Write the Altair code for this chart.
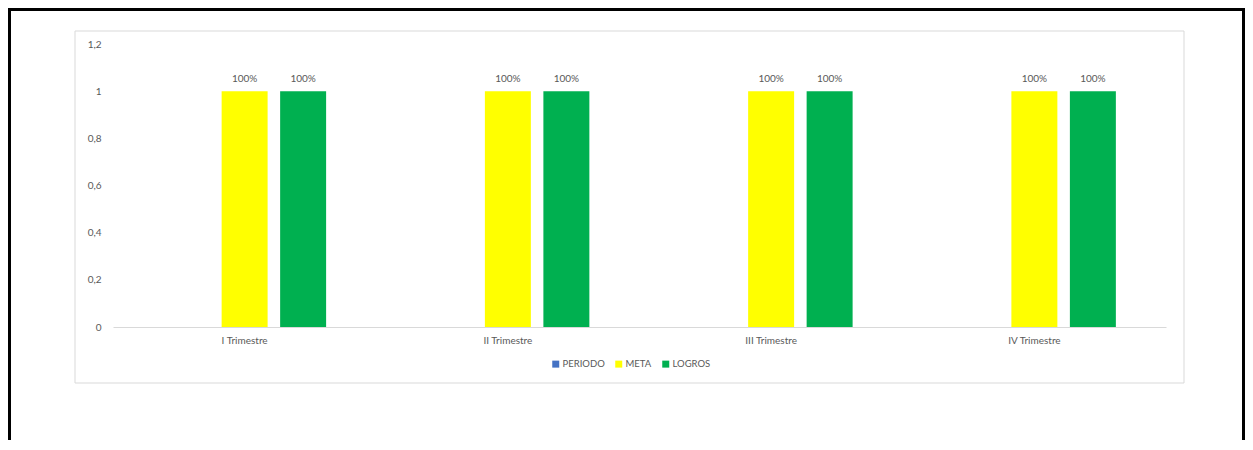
import altair as alt
import pandas as pd

periodos = ["I Trimestre", "II Trimestre", "III Trimestre", "IV Trimestre"]
series = ["PERIODO", "META", "LOGROS"]
periodo_vals = [0, 0, 0, 0]
meta_vals = [1, 1, 1, 1]
logros_vals = [1, 1, 1, 1]
colores = ["#4472C4", "#FFFF00", "#00B050"]
y_ticks = [0, 0.2, 0.4, 0.6, 0.8, 1.0, 1.2]

rows = []
for s, vals in zip(series, [periodo_vals, meta_vals, logros_vals]):
    for p, v in zip(periodos, vals):
        rows.append({"periodo": p, "serie": s, "valor": v})
df = pd.DataFrame(rows)

FONT = "Lato"
GRAY = "#595959"

x_enc = alt.X("periodo:N", sort=periodos, title=None,
              scale=alt.Scale(paddingInner=0, paddingOuter=0),
              axis=alt.Axis(labelAngle=0, ticks=False, domainColor="#d9d9d9",
                            labelColor=GRAY, labelFontSize=10, labelFont=FONT,
                            labelPadding=8))
xo_enc = alt.XOffset("serie:N", sort=series,
                     scale=alt.Scale(paddingInner=0.214, paddingOuter=0.857))
y_enc = alt.Y("valor:Q", title=None,
              scale=alt.Scale(domain=[0, 1.2], nice=False),
              axis=alt.Axis(values=y_ticks, grid=False, domain=False, ticks=False,
                            labelColor=GRAY, labelFontSize=10, labelFont=FONT,
                            labelPadding=12,
                            labelExpr="replace(format(datum.value, '.1~f'), '.', ',')"))

bars = alt.Chart(df).mark_bar().encode(
    x=x_enc, xOffset=xo_enc, y=y_enc,
    color=alt.Color("serie:N", sort=series,
                    scale=alt.Scale(domain=series, range=colores),
                    legend=alt.Legend(title=None, orient="none", direction="horizontal",
                                      legendX=438, legendY=315, symbolType="square",
                                      symbolSize=49, symbolStrokeWidth=0,
                                      labelFontSize=9.5, labelFont=FONT, labelColor=GRAY,
                                      columnPadding=9, labelOffset=2)),
)

labels = alt.Chart(df).transform_filter(
    alt.datum.serie != "PERIODO"
).mark_text(baseline="alphabetic", dy=-9, fontSize=10, font=FONT, color=GRAY).encode(
    x=x_enc, xOffset=xo_enc, y=y_enc,
    text=alt.Text("valor:Q", format=".0%"),
)

frame_df = pd.DataFrame({"a": [0]})
chart_box = alt.Chart(frame_df).mark_rect(fillOpacity=0, stroke="#d9d9d9", strokeWidth=1).encode(
    x=alt.value(-38), x2=alt.value(1071), y=alt.value(-13), y2=alt.value(339)
)
outer_box = alt.Chart(frame_df).mark_rect(fillOpacity=0, stroke="#000000", strokeWidth=3).encode(
    x=alt.value(-103.5), x2=alt.value(1130.5), y=alt.value(-34.5), y2=alt.value(480)
)

chart = alt.layer(outer_box, chart_box, bars, labels).properties(
    width=1053, height=283,
    padding={"left": 105, "top": 36, "right": 79, "bottom": 113},
    autosize=alt.AutoSizeParams(type="none"),
    background="white",
).configure_view(strokeWidth=0)

chart.save("out.html", embed_options={"renderer": "svg", "actions": False})
